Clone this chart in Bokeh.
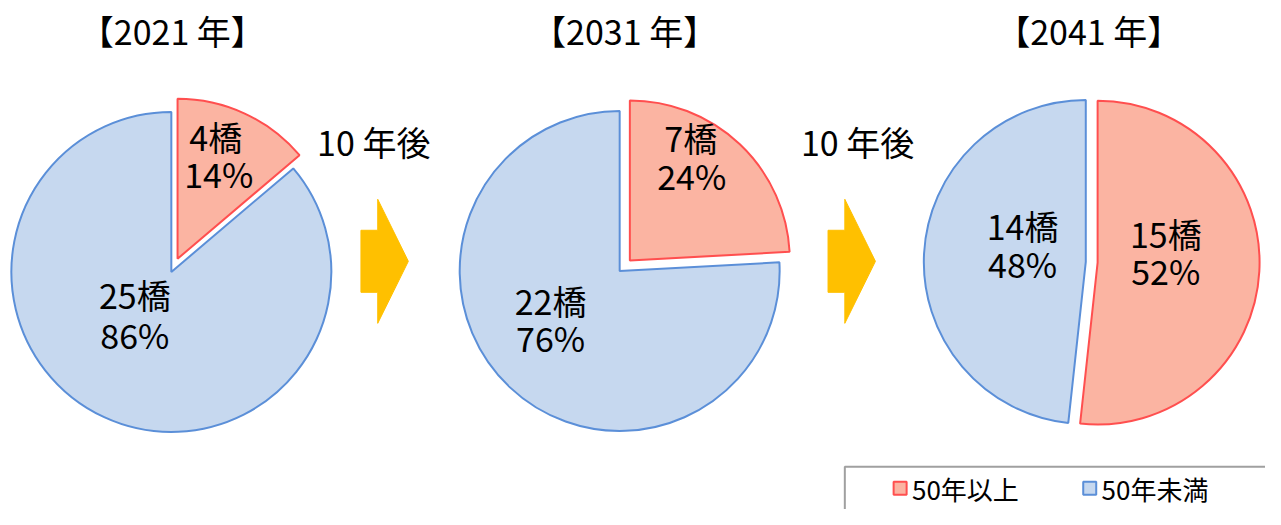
import math
from bokeh.plotting import figure
from bokeh.models import Range1d
from bokeh.core.properties import value
from bokeh.embed import file_html
from bokeh.resources import INLINE

# ---------------- data ----------------
years = ["2021", "2031", "2041"]
categories = ["50年以上", "50年未満"]
over50 = [4, 7, 15]
under50 = [25, 22, 14]
gap_label = "10 年後"

# ---------------- styles ----------------
FONT = value("Noto Sans CJK JP")
RED_FILL, RED_LINE = "#FBB4A2", "#FF4F4F"
BLUE_FILL, BLUE_LINE = "#C6D8EF", "#5B8FD8"
ARROW = "#FFC000"
BIG = 34
LEG = 26

# reference frame is 1281 x 525; map it onto the figure
W, H = 1265, 509
p = figure(width=W, height=H, x_range=Range1d(0, 1281), y_range=Range1d(-525, 0),
           output_backend="svg", toolbar_location=None, min_border=0)
p.axis.visible = False
p.grid.visible = False
p.outline_line_color = None
p.background_fill_color = "white"
p.border_fill_color = "white"

# ---------------- layout (pixel positions in reference frame) ----------------
pie_centers = [(173, 280), (627, 279), (1105, 270)]
pie_radius = [162, 162, 164]
explode = [(15, 0), (15, 0), (6, 6)]      # (over50 slice, under50 slice)
label_pos = [
    [((218, 140), (221, 178)), ((136, 303), (136, 344))],
    [((699, 141), (700, 180)), ((557, 309), (557, 348))],
    [((1180, 240), (1180, 279)), ((1035, 232), (1035, 271))],
]
title_pos = [(174, 31), (632, 31), (1102, 31)]
arrow_x = [365, 838]
arrow_cy = 269
gap_label_pos = [(378, 145), (868, 145)]


def text(x, y, s, size, align="center", color="black"):
    p.text(x=[x], y=[-y], text=[s], text_font=FONT, text_font_size=f"{size}px",
           text_align=align, text_baseline="middle", text_color=color)


for i, yr in enumerate(years):
    cx, cy = pie_centers[i]
    r = pie_radius[i]
    total = over50[i] + under50[i]
    vals = [over50[i], under50[i]]
    fills = [RED_FILL, BLUE_FILL]
    lines = [RED_LINE, BLUE_LINE]
    a = 0.0
    for k, v in enumerate(vals):
        b = a + v / total
        theta = math.pi * (a + b)      # mid angle, clockwise from 12 o'clock
        d = explode[i][k]
        x0 = cx + d * math.sin(theta)
        y0 = -cy + d * math.cos(theta)
        p.wedge(x=[x0], y=[y0], radius=r,
                start_angle=math.pi / 2 - 2 * math.pi * b,
                end_angle=math.pi / 2 - 2 * math.pi * a,
                direction="anticlock", fill_color=fills[k], line_color=lines[k],
                line_width=2)
        (l1, l2) = label_pos[i][k]
        text(l1[0], l1[1], f"{v}橋", BIG)
        text(l2[0], l2[1], f"{round(100 * v / total)}%", BIG)
        a = b
    text(title_pos[i][0], title_pos[i][1], f"【{yr} 年】", BIG)

# arrows between pies
for i, ax in enumerate(arrow_x):
    cy = arrow_cy
    xs = [ax, ax + 17, ax + 17, ax + 48, ax + 17, ax + 17, ax]
    ys = [cy - 32, cy - 32, cy - 64, cy, cy + 64, cy + 32, cy + 32]
    p.patch(x=xs, y=[-v for v in ys], fill_color=ARROW, line_color=ARROW, line_width=1)
    text(gap_label_pos[i][0], gap_label_pos[i][1], gap_label, BIG)

# legend
p.quad(left=[855], right=[1300], top=[-481], bottom=[-560], fill_color=None,
       line_color="#A0A0A0", line_width=2)
leg_marker_x = [911, 1103]
leg_text_x = [923, 1115]
leg_y = 503
for k, cat in enumerate(categories):
    p.scatter(x=[leg_marker_x[k]], y=[-leg_y], marker="square", size=13,
              fill_color=[RED_FILL, BLUE_FILL][k], line_color=[RED_LINE, BLUE_LINE][k],
              line_width=2)
    text(leg_text_x[k], leg_y, cat, LEG, align="left")

open("out.html", "w").write(file_html(p, INLINE))
